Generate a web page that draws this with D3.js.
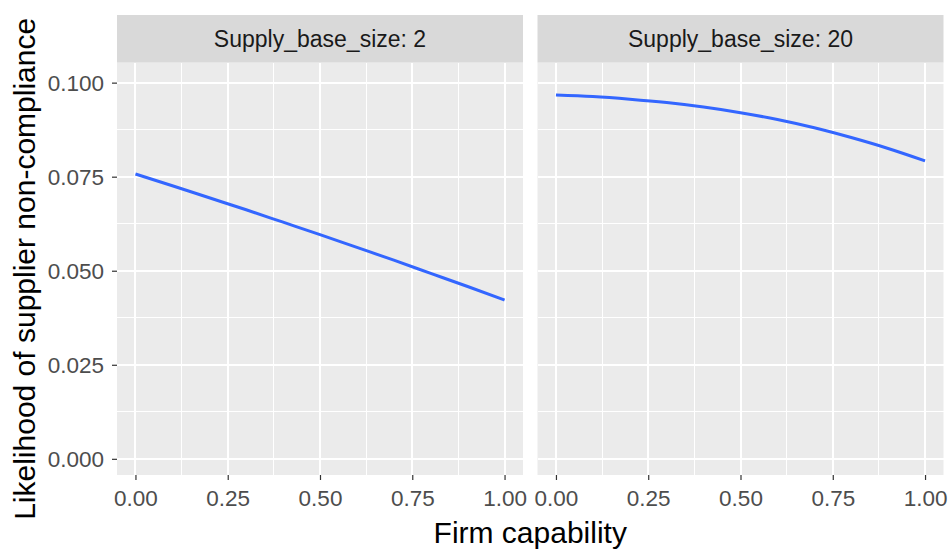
<!DOCTYPE html>
<html>
<head>
<meta charset="utf-8">
<script src="https://cdn.jsdelivr.net/npm/d3@7"></script>
<style>
  html, body { margin: 0; padding: 0; background: #ffffff; }
  svg { display: block; font-family: "Liberation Sans", Arial, sans-serif; }
</style>
</head>
<body>
<svg id="chart" width="951" height="552"></svg>
<script>
// Firm capability grid (x) and fitted likelihood per supply base size
const capability = [0, 0.1, 0.2, 0.3, 0.4, 0.5, 0.6, 0.7, 0.8, 0.9, 1.0];
const size2  = [0.0757, 0.0726, 0.0694, 0.0662, 0.0629, 0.0596, 0.0562, 0.0528, 0.0493, 0.0458, 0.0422];
const size20 = [0.0967, 0.0963, 0.0956, 0.0947, 0.0935, 0.0920, 0.0902, 0.0880, 0.0854, 0.0825, 0.0792];
const facetLabels = ["Supply_base_size: 2", "Supply_base_size: 20"];
const xTicks = [0, 0.25, 0.5, 0.75, 1.0];
const xTickLabels = ["0.00", "0.25", "0.50", "0.75", "1.00"];
const yTicks = [0, 0.025, 0.05, 0.075, 0.1];
const yTickLabels = ["0.000", "0.025", "0.050", "0.075", "0.100"];

const facets = [
  { label: facetLabels[0], values: size2, left: 117 },
  { label: facetLabels[1], values: size20, left: 537.5 }
];

const svg = d3.select("#chart");
const panelW = 406;
const stripTop = 15, panelTop = 62.7, panelBottom = 475;

const y = d3.scaleLinear().domain([-0.0043, 0.1053]).range([panelBottom, panelTop]);
const yMinor = [0.0125, 0.0375, 0.0625, 0.0875];
const xMinor = [0.125, 0.375, 0.625, 0.875];

facets.forEach(f => {
  const x = d3.scaleLinear().domain([-0.05, 1.05]).range([f.left, f.left + panelW]);
  const g = svg.append("g");

  // strip
  g.append("rect")
    .attr("x", f.left).attr("y", stripTop)
    .attr("width", panelW).attr("height", panelTop - stripTop)
    .attr("fill", "#D9D9D9");
  g.append("text")
    .attr("x", f.left + panelW / 2).attr("y", (stripTop + panelTop) / 2 + 8)
    .attr("text-anchor", "middle")
    .attr("font-size", 23)
    .attr("fill", "#1A1A1A")
    .text(f.label);

  // panel background
  g.append("rect")
    .attr("x", f.left).attr("y", panelTop)
    .attr("width", panelW).attr("height", panelBottom - panelTop)
    .attr("fill", "#EBEBEB");

  // minor grid
  g.selectAll(null).data(yMinor).enter().append("line")
    .attr("x1", f.left).attr("x2", f.left + panelW)
    .attr("y1", d => y(d)).attr("y2", d => y(d))
    .attr("stroke", "#ffffff").attr("stroke-width", 1)
    .attr("shape-rendering", "crispEdges");
  g.selectAll(null).data(xMinor).enter().append("line")
    .attr("y1", panelTop).attr("y2", panelBottom)
    .attr("x1", d => x(d)).attr("x2", d => x(d))
    .attr("stroke", "#ffffff").attr("stroke-width", 1)
    .attr("shape-rendering", "crispEdges");

  // major grid
  g.selectAll(null).data(yTicks).enter().append("line")
    .attr("x1", f.left).attr("x2", f.left + panelW)
    .attr("y1", d => y(d)).attr("y2", d => y(d))
    .attr("stroke", "#ffffff").attr("stroke-width", 2)
    .attr("shape-rendering", "crispEdges");
  g.selectAll(null).data(xTicks).enter().append("line")
    .attr("y1", panelTop).attr("y2", panelBottom)
    .attr("x1", d => x(d)).attr("x2", d => x(d))
    .attr("stroke", "#ffffff").attr("stroke-width", 2)
    .attr("shape-rendering", "crispEdges");

  // fitted line
  const line = d3.line()
    .x((d, i) => x(capability[i]))
    .y(d => y(d))
    .curve(d3.curveMonotoneX);
  g.append("path")
    .datum(f.values)
    .attr("d", line)
    .attr("fill", "none")
    .attr("stroke", "#3366FF")
    .attr("stroke-width", 3);

  // x axis
  const xAxis = d3.axisBottom(x)
    .tickValues(xTicks)
    .tickFormat((d, i) => xTickLabels[i])
    .tickSizeInner(5).tickSizeOuter(0).tickPadding(5);
  const ax = g.append("g").attr("transform", `translate(0,${panelBottom})`).call(xAxis);
  ax.select(".domain").remove();
  ax.selectAll(".tick line").attr("stroke", "#333333").attr("stroke-width", 1.2);
  ax.selectAll(".tick text")
    .attr("font-size", 22.5).attr("fill", "#4D4D4D")
    .attr("font-family", "Liberation Sans, Arial, sans-serif")
    .attr("dy", "0.95em");
});

// y axis on the left panel
const yAxis = d3.axisLeft(y)
  .tickValues(yTicks)
  .tickFormat((d, i) => yTickLabels[i])
  .tickSizeInner(5).tickSizeOuter(0).tickPadding(8);
const ay = svg.append("g").attr("transform", `translate(${facets[0].left},0)`).call(yAxis);
ay.select(".domain").remove();
ay.selectAll(".tick line").attr("stroke", "#333333").attr("stroke-width", 1.2);
ay.selectAll(".tick text")
  .attr("font-size", 22.5).attr("fill", "#4D4D4D")
  .attr("font-family", "Liberation Sans, Arial, sans-serif")
  .attr("dy", "0.36em");

// axis titles
svg.append("text")
  .attr("x", (facets[0].left + facets[1].left + panelW) / 2)
  .attr("y", 543)
  .attr("text-anchor", "middle")
  .attr("font-size", 30)
  .attr("fill", "#000000")
  .text("Firm capability");

svg.append("text")
  .attr("transform", `translate(35,${(panelTop + panelBottom) / 2}) rotate(-90)`)
  .attr("text-anchor", "middle")
  .attr("font-size", 30)
  .attr("fill", "#000000")
  .text("Likelihood of supplier non-compliance");
</script>
</body>
</html>
